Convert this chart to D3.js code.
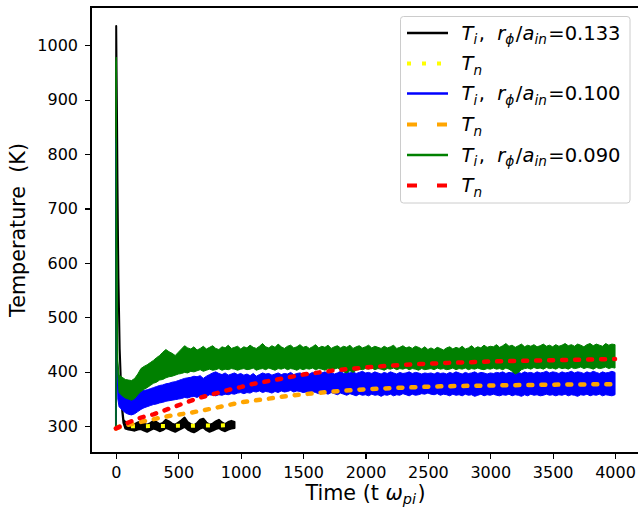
<!DOCTYPE html>
<html>
<head>
<meta charset="utf-8">
<title>Temperature vs time</title>
<style>
  body { margin: 0; background: #fff; }
  svg text { font-family: "DejaVu Sans", sans-serif; fill: #000; white-space: pre; }
  .axis path, .axis line { stroke: #000; stroke-width: 1.1; fill: none; shape-rendering: crispEdges; }
  .axis text { font-size: 16px; }
</style>
<script src="https://cdn.jsdelivr.net/npm/d3@7"></script>
</head>
<body>
<svg id="chart"></svg>
<script>
// ---- data ----
var xTicks = [0, 500, 1000, 1500, 2000, 2500, 3000, 3500, 4000];
var yTicks = [300, 400, 500, 600, 700, 800, 900, 1000];

// Ti, r/a = 0.133 (black, noisy band: low / high envelope)
var tBlack  = [0, 2, 5, 9, 12, 16, 20, 30, 46, 60,
  75, 100, 125, 150, 175, 200, 225, 250, 275, 300, 325, 350, 375, 400, 425, 450, 475, 500,
  525, 550, 575, 600, 625, 650, 675, 700, 725, 750, 775, 800, 825, 850, 875, 900, 925, 950];
var blackLo = [295, 1033, 950, 850, 750, 650, 570, 440, 338, 306,
  296, 294, 293, 292, 294, 295, 292, 290, 293, 296, 294, 291, 293, 297, 295, 292, 290, 293,
  296, 299, 294, 291, 289, 292, 296, 298, 293, 290, 292, 295, 297, 293, 291, 294, 296, 297];
var blackHi = [295, 1035, 952, 852, 752, 652, 572, 442, 342, 312,
  308, 307, 305, 304, 307, 309, 305, 303, 306, 310, 308, 304, 306, 312, 309, 305, 303, 307,
  311, 316, 308, 304, 302, 306, 312, 314, 307, 303, 305, 309, 312, 307, 304, 308, 310, 308];

// Tn for 0.133 (yellow dotted)
var tYellow = [0, 100, 200, 300, 400, 500, 600, 700, 800, 900, 950];
var yellowT = [299, 300, 300, 300.5, 300.5, 301, 301, 301.5, 301.5, 302, 302];

// Ti for 0.100 (blue) and 0.090 (green): shared time grid
var tBand = [0, 2, 5, 10, 15,
  25, 50, 75, 100, 125, 150, 175, 200, 225, 250, 275, 300, 325, 350, 375, 400, 425, 450, 475, 500,
  525, 550, 575, 600, 625, 650, 675, 700, 725, 750, 775, 800, 825, 850, 875, 900, 925, 950, 975, 1000,
  1025, 1050, 1075, 1100, 1125, 1150, 1175, 1200, 1225, 1250, 1275, 1300, 1325, 1350, 1375, 1400, 1425, 1450, 1475, 1500,
  1525, 1550, 1575, 1600, 1625, 1650, 1675, 1700, 1725, 1750, 1775, 1800, 1825, 1850, 1875, 1900, 1925, 1950, 1975, 2000,
  2025, 2050, 2075, 2100, 2125, 2150, 2175, 2200, 2225, 2250, 2275, 2300, 2325, 2350, 2375, 2400, 2425, 2450, 2475, 2500,
  2525, 2550, 2575, 2600, 2625, 2650, 2675, 2700, 2725, 2750, 2775, 2800, 2825, 2850, 2875, 2900, 2925, 2950, 2975, 3000,
  3025, 3050, 3075, 3100, 3125, 3150, 3175, 3200, 3225, 3250, 3275, 3300, 3325, 3350, 3375, 3400, 3425, 3450, 3475, 3500,
  3525, 3550, 3575, 3600, 3625, 3650, 3675, 3700, 3725, 3750, 3775, 3800, 3825, 3850, 3875, 3900, 3925, 3950, 3975, 4000];

var blueLo = [295, 820, 520, 400, 350,
  336, 330, 325, 322, 321, 323, 327, 331, 334, 336, 338, 340, 341, 343, 344, 346, 347, 348, 349, 350,
  351, 353, 352, 354, 355, 353, 356, 357, 355, 358, 357, 356, 358, 357, 359, 358, 360, 359, 361, 362,
  360, 362, 361, 364, 363, 365, 362, 364, 363, 361, 364, 362, 365, 363, 364, 366, 363, 365, 364, 362,
  363, 361, 364, 362, 360, 363, 361, 359, 362, 360, 358, 361, 359, 357, 360, 358, 356, 359, 357, 358,
  356, 359, 357, 358, 355, 358, 357, 359, 356, 358, 357, 360, 358, 356, 359, 357, 358, 360, 359, 361,
  359, 358, 360, 357, 359, 358, 356, 359, 357, 358, 356, 359, 357, 358, 355, 357, 359, 356, 358, 357,
  359, 357, 356, 358, 357, 359, 356, 358, 357, 355, 358, 356, 359, 357, 358, 356, 357, 359, 357, 358,
  356, 358, 357, 359, 356, 358, 357, 355, 358, 357, 359, 356, 358, 357, 359, 356, 358, 357, 356, 358];
var blueHi = [295, 830, 600, 450, 390,
  386, 377, 370, 365, 362, 361, 362, 364, 366, 367, 369, 371, 373, 375, 376, 378, 379, 381, 382, 384,
  386, 388, 389, 390, 392, 391, 393, 388, 392, 395, 398, 400, 397, 395, 398, 394, 396, 398, 395, 397,
  394, 396, 393, 397, 392, 395, 398, 396, 397, 394, 396, 398, 395, 397, 396, 399, 395, 397, 398, 396,
  398, 396, 399, 397, 395, 398, 400, 397, 399, 396, 398, 401, 397, 399, 398, 400, 397, 399, 401, 398,
  399, 397, 400, 398, 396, 399, 397, 400, 398, 396, 399, 397, 398, 400, 397, 399, 398, 396, 398, 397,
  398, 396, 399, 397, 398, 396, 399, 397, 400, 398, 396, 399, 397, 398, 400, 397, 399, 398, 396, 398,
  397, 399, 398, 400, 397, 399, 398, 401, 399, 397, 400, 398, 399, 397, 400, 398, 399, 401, 398, 400,
  399, 397, 400, 398, 399, 401, 398, 400, 399, 397, 400, 398, 401, 399, 397, 400, 398, 399, 401, 399];

var greenLo = [295, 970, 640, 470, 395,
  362, 356, 352, 350, 348, 351, 358, 364, 368, 371, 375, 379, 381, 385, 386, 389, 391, 392, 394, 396,
  397, 399, 398, 401, 400, 402, 404, 401, 403, 405, 403, 404, 406, 403, 405, 404, 406, 405, 403, 405,
  406, 404, 405, 407, 403, 405, 406, 404, 407, 405, 403, 406, 405, 407, 404, 406, 405, 403, 406, 404,
  406, 405, 407, 404, 406, 405, 403, 406, 404, 405, 407, 404, 400, 398, 402, 399, 403, 405, 404, 406,
  405, 407, 404, 406, 405, 403, 406, 405, 407, 404, 406, 405, 407, 404, 406, 405, 403, 406, 404, 405,
  406, 404, 407, 405, 406, 404, 405, 407, 404, 406, 405, 407, 404, 406, 405, 407, 405, 404, 406, 405,
  407, 405, 406, 404, 407, 405, 401, 396, 399, 404, 406, 407, 405, 408, 406, 407, 405, 408, 406, 407,
  405, 408, 406, 407, 405, 408, 406, 407, 409, 406, 408, 407, 405, 408, 406, 407, 409, 406, 408, 407];
var greenHi = [295, 978, 780, 560, 420,
  394, 390, 386, 385, 384, 388, 396, 406, 410, 413, 417, 421, 426, 430, 436, 441, 437, 434, 430, 436,
  442, 448, 444, 442, 446, 440, 443, 447, 442, 445, 448, 443, 441, 446, 444, 449, 443, 445, 447, 442,
  446, 444, 449, 445, 443, 447, 452, 446, 444, 448, 445, 451, 446, 443, 447, 449, 444, 446, 450, 445,
  447, 443, 446, 450, 444, 447, 445, 449, 443, 446, 448, 444, 447, 445, 449, 443, 446, 448, 444, 446,
  449, 444, 447, 445, 443, 447, 444, 446, 449, 443, 445, 448, 444, 446, 443, 447, 445, 442, 446, 441,
  444, 441, 445, 443, 440, 444, 446, 442, 445, 443, 447, 442, 444, 448, 443, 446, 444, 449, 445, 447,
  446, 450, 445, 448, 452, 447, 449, 445, 448, 451, 446, 449, 447, 450, 446, 448, 451, 447, 449, 446,
  450, 447, 449, 452, 448, 450, 447, 451, 449, 446, 450, 452, 448, 451, 449, 447, 452, 449, 451, 450];

// Tn for 0.100 (orange dashed) and 0.090 (red dashed)
var tOrange = [0, 50, 100, 200, 300, 400, 600, 800, 1000, 1200, 1400, 1600, 1800, 2000, 2300, 2600, 3000, 3500, 4000];
var orangeT = [296, 300, 303, 308, 313, 318, 325, 334, 344, 350, 356.5, 361, 365, 368, 371, 373.5, 375, 376.5, 377.5];
var tRed = [0, 50, 100, 150, 200, 300, 433, 648, 888, 1000, 1100, 1316, 1500, 1758, 2000, 2172, 2400, 2666, 3000, 3500, 4000];
var redT = [296, 302, 307, 312, 316, 322, 333, 351, 366, 372, 378, 387, 395, 403, 408, 411, 414, 416.5, 419, 421.5, 423.5];

// ---- layout ----
var W = 638, H = 508;
var plotLeft = 91, plotRight = 640, plotTop = 7, plotBottom = 453;

var svg = d3.select("#chart").attr("width", W).attr("height", H);

var x = d3.scaleLinear().domain([-200, 4200]).range([plotLeft, plotRight]);
var y = d3.scaleLinear().domain([251, 1070]).range([plotBottom, plotTop]);

var g = svg.append("g");

function band(ts, lo, hi) {
  return ts.map(function (t, i) { return [t, lo[i], hi[i]]; });
}
function pts(ts, v) {
  return ts.map(function (t, i) { return [t, v[i]]; });
}
var area = d3.area().x(function (d) { return x(d[0]); })
  .y0(function (d) { return y(d[1]); }).y1(function (d) { return y(d[2]); });
var line = d3.line().x(function (d) { return x(d[0]); }).y(function (d) { return y(d[1]); });

// drawing order as in the original: black, yellow, blue, orange, green, red
g.append("path").attr("d", area(band(tBlack, blackLo, blackHi)))
  .attr("fill", "black").attr("stroke", "black").attr("stroke-width", 2).attr("stroke-linejoin", "round");
g.append("path").attr("d", line(pts(tYellow, yellowT)))
  .attr("fill", "none").attr("stroke", "#ffff00").attr("stroke-width", 4).attr("stroke-dasharray", "4,11");
g.append("path").attr("d", area(band(tBand, blueLo, blueHi)))
  .attr("fill", "#0000ff").attr("stroke", "#0000ff").attr("stroke-width", 1).attr("stroke-linejoin", "round");
g.append("path").attr("d", line(pts(tOrange, orangeT)))
  .attr("fill", "none").attr("stroke", "#ffa500").attr("stroke-width", 4.5)
  .attr("stroke-linecap", "round").attr("stroke-dasharray", "4,9");
g.append("path").attr("d", area(band(tBand, greenLo, greenHi)))
  .attr("fill", "#008000").attr("stroke", "#008000").attr("stroke-width", 1).attr("stroke-linejoin", "round");
g.append("path").attr("d", line(pts(tRed, redT)))
  .attr("fill", "none").attr("stroke", "#ff0000").attr("stroke-width", 4.5)
  .attr("stroke-linecap", "round").attr("stroke-dasharray", "4,9");

// ---- axes ----
svg.append("g").attr("class", "axis")
  .attr("transform", "translate(0," + plotBottom + ")")
  .call(d3.axisBottom(x).tickValues(xTicks).tickFormat(d3.format("d"))
    .tickSize(6).tickPadding(7.5).tickSizeOuter(0));
svg.append("g").attr("class", "axis")
  .attr("transform", "translate(" + plotLeft + ",0)")
  .call(d3.axisLeft(y).tickValues(yTicks).tickFormat(d3.format("d"))
    .tickSize(6).tickPadding(7).tickSizeOuter(0));
svg.selectAll(".axis .domain").remove();

// frame
svg.append("rect").attr("x", plotLeft).attr("y", plotTop)
  .attr("width", plotRight - plotLeft).attr("height", plotBottom - plotTop)
  .attr("fill", "none").attr("stroke", "#000").attr("stroke-width", 1.1)
  .attr("shape-rendering", "crispEdges");

// ---- labels with simple math ----
function mathText(sel, parts, fs) {
  var shift = 0.24 * fs;
  var prevSub = false;
  parts.forEach(function (p) {
    var ts = sel.append("tspan").text(p[0]);
    if (p[1]) ts.attr("font-style", "italic");
    if (p[2]) {
      ts.attr("font-size", (fs * 0.7) + "px");
      if (!prevSub) ts.attr("dy", shift);
    } else if (prevSub) {
      ts.attr("dy", -shift).attr("dx", 1.5);
    }
    prevSub = !!p[2];
  });
}

var labelSize = 20.7;
var xl = svg.append("text").attr("x", (plotLeft + plotRight) / 2).attr("y", 499.5)
  .attr("text-anchor", "middle").style("font-size", labelSize + "px");
mathText(xl, [["Time (t ", false, false], ["\u03c9", true, false], ["pi", true, true], [")", false, false]], labelSize);

svg.append("text").attr("transform", "translate(25," + ((plotTop + plotBottom) / 2) + ") rotate(-90)")
  .attr("text-anchor", "middle").style("font-size", labelSize + "px").text("Temperature  (K)");

// ---- legend ----
function ionLabel(v) {
  return [["T", true], ["i", true, true], [",  ", false], ["r", true], ["\u03d5", true, true],
    ["/", false], ["a", true], ["in", true, true], ["=" + v, false]];
}
var neutralLabel = [["T", true], ["n", true, true]];
var legendItems = [
  { color: "black",   dash: null,    w: 2.3, label: ionLabel("0.133") },
  { color: "#ffff00", dash: "4,11",  w: 4,   label: neutralLabel },
  { color: "#0000ff", dash: null,    w: 2.3, label: ionLabel("0.100") },
  { color: "#ffa500", dash: "10,20", w: 4,   label: neutralLabel },
  { color: "#008000", dash: null,    w: 2.3, label: ionLabel("0.090") },
  { color: "#ff0000", dash: "10,20", w: 4,   label: neutralLabel }
];

var legend = svg.append("g");
legend.append("rect").attr("x", 400.5).attr("y", 16.5).attr("width", 229.5).attr("height", 186.5)
  .attr("rx", 3).attr("fill", "white").attr("fill-opacity", 0.8)
  .attr("stroke", "#cccccc").attr("stroke-width", 1);

var legendSize = 19.5;
var rowY = [33, 63.5, 93.5, 124.5, 155, 185.5];
legendItems.forEach(function (it, i) {
  var ly = rowY[i];
  var ln = legend.append("line").attr("x1", 407).attr("x2", 448).attr("y1", ly).attr("y2", ly)
    .attr("stroke", it.color).attr("stroke-width", it.w);
  if (it.dash) ln.attr("stroke-dasharray", it.dash);
  var tx = legend.append("text").attr("x", 461.5).attr("y", ly + 6.5).style("font-size", legendSize + "px");
  mathText(tx, it.label, legendSize);
});
</script>
</body>
</html>
